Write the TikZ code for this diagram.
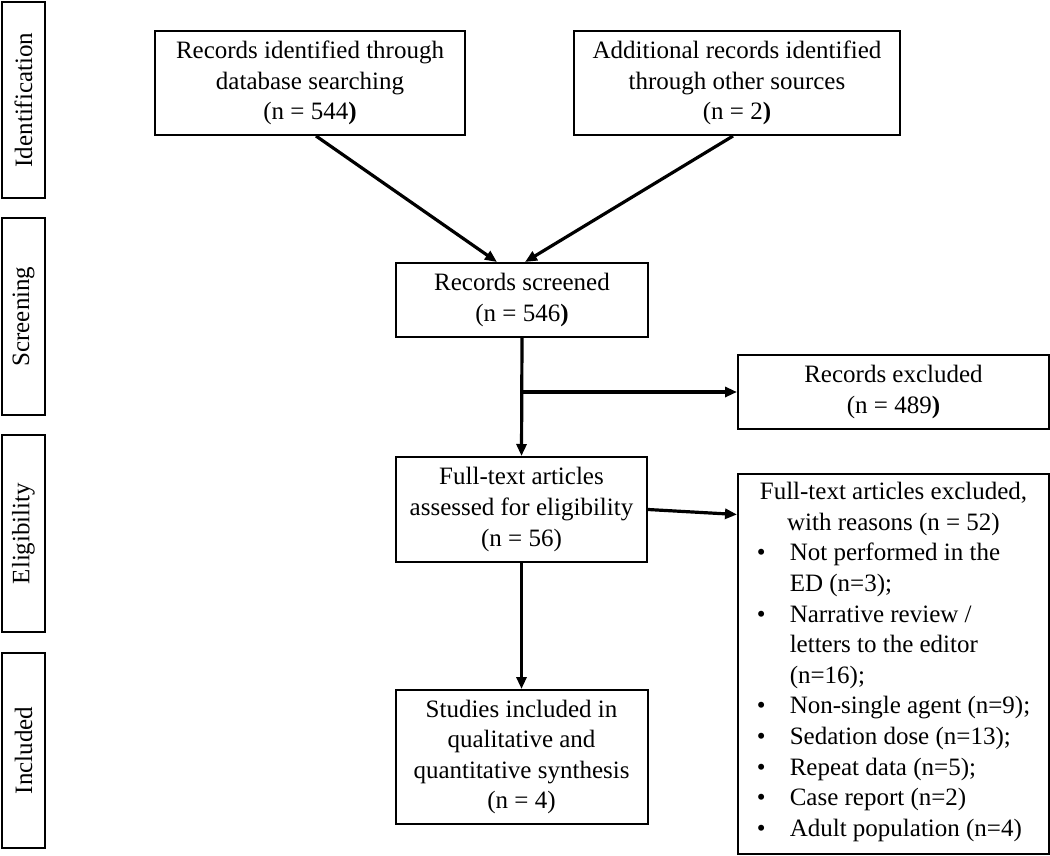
\documentclass[tikz,border=0pt]{standalone}
\usepackage{fontspec}
\setmainfont{Liberation Serif}
\usetikzlibrary{arrows.meta, positioning, calc}

\begin{document}
\begin{tikzpicture}[
    x=0.5pt, y=-0.5pt,
    font=\fontsize{12.5}{15.3}\selectfont,
    side_box/.style={rectangle, draw, line width=1pt, rotate=90, minimum height=21.5pt, inner sep=0pt},
    flow_box/.style={rectangle, draw, line width=1pt, align=center, inner sep=2pt},
    flow_arrow/.style={-{Triangle[length=6pt, width=5pt]}, line width=1.6pt}
]
\useasboundingbox (0,0) rectangle (1050,856);

% Stage labels
\node (ident_node) at (23.5,100) [side_box, minimum width=98pt] {Identification};
\node (screen_node) at (23.5,316.5) [side_box, minimum width=98.5pt] {Screening};
\node (elig_node) at (23.5,533.5) [side_box, minimum width=98.5pt] {Eligibility};
\node (incl_node) at (23.5,750.5) [side_box, minimum width=97.5pt] {Included};

% Identification
\node (db_node) at (310,83) [flow_box, minimum width=155pt, minimum height=52pt] {Records identified through\\ database searching\\ (n = 544\textbf{)}};
\node (other_node) at (737,83) [flow_box, minimum width=163pt, minimum height=52pt] {Additional records identified\\ through other sources\\ (n = 2\textbf{)}};

% Screening
\node (screened_node) at (522,300) [flow_box, minimum width=126pt, minimum height=37pt] {Records screened\\ (n = 546\textbf{)}};
\node (excl_node) at (893.5,392) [flow_box, minimum width=155.5pt, minimum height=37pt] {Records excluded\\ (n = 489\textbf{)}};

% Eligibility
\node (fulltext_node) at (521.5,509.5) [flow_box, minimum width=125.5pt, minimum height=52.5pt] {Full-text articles\\ assessed for eligibility\\ (n = 56)};
\node (reasons_node) at (893.5,664) [flow_box, minimum width=155.5pt, minimum height=190pt] {Full-text articles excluded,\\ with reasons (n = 52)\\
    \begin{tabular}[t]{@{}l@{}l@{}}
    \makebox[16.5pt][l]{\textbullet} & Not performed in the\\
     & ED (n=3);\\
    \makebox[16.5pt][l]{\textbullet} & Narrative review /\\
     & letters to the editor\\
     & (n=16);\\
    \makebox[16.5pt][l]{\textbullet} & Non-single agent (n=9);\\
    \makebox[16.5pt][l]{\textbullet} & Sedation dose (n=13);\\
    \makebox[16.5pt][l]{\textbullet} & Repeat data (n=5);\\
    \makebox[16.5pt][l]{\textbullet} & Case report (n=2)\\
    \makebox[16.5pt][l]{\textbullet} & Adult population (n=4)
    \end{tabular}};

% Included
\node (studies_node) [flow_box, minimum width=126pt, minimum height=67pt, below=63pt of fulltext_node] {Studies included in\\ qualitative and\\ quantitative synthesis\\ (n = 4)};

% Connections
\draw [flow_arrow] ([xshift=3pt]db_node.south) -- ([xshift=-12.5pt]screened_node.north);
\draw [flow_arrow] ([xshift=-2pt]other_node.south) -- ([xshift=1.5pt]screened_node.north);
\draw [flow_arrow] (screened_node.south) -- (fulltext_node.north);
\draw [flow_arrow] (screened_node.south |- excl_node.west) -- (excl_node.west);
\draw [flow_arrow] (fulltext_node.east) -- ($(fulltext_node.east -| reasons_node.west)+(0,5)$);
\draw [flow_arrow] (fulltext_node.south) -- (studies_node.north);

\end{tikzpicture}
\end{document}
